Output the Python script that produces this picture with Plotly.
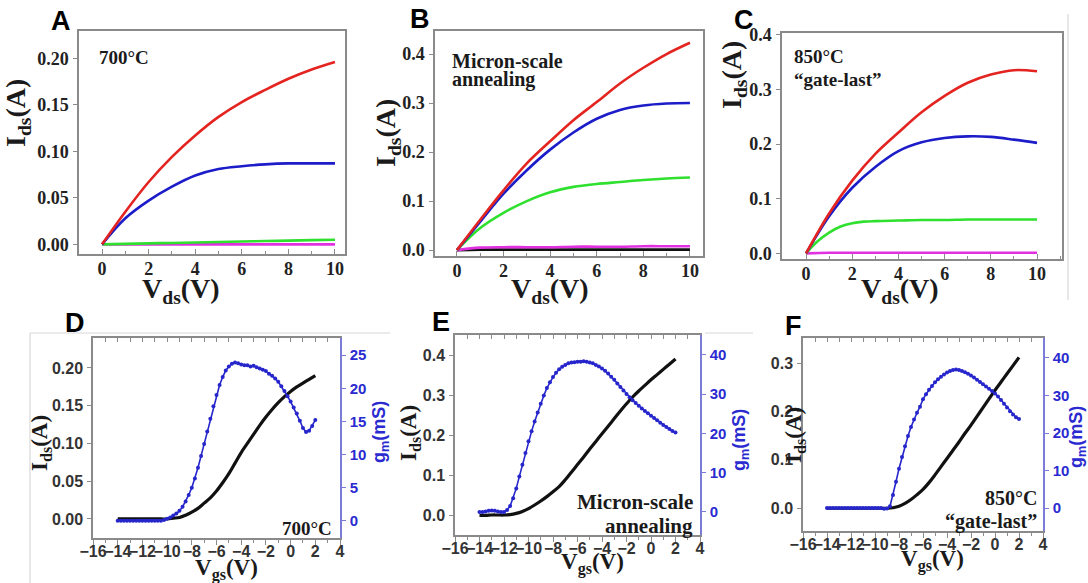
import plotly.graph_objects as go

W, H = 1088, 583
SERIF = "Liberation Serif"
SANS = "Liberation Sans"

# ---------------- data: output curves (top row) ----------------
vds = [0, 1, 2, 3, 4, 5, 6, 7, 8, 9, 10]
vds_c = [0, 0.5, 1, 1.5, 2, 2.5, 3, 4, 5, 6, 7, 8, 9, 10]

a_red = [0, 0.035, 0.067, 0.094, 0.117, 0.137, 0.153, 0.166, 0.178, 0.188, 0.196]
a_blue = [0, 0.028, 0.047, 0.062, 0.074, 0.081, 0.084, 0.086, 0.087, 0.087, 0.087]
a_green = [0, 0.0005, 0.001, 0.0015, 0.002, 0.0025, 0.003, 0.0035, 0.004, 0.0045, 0.005]
a_mag = [0, 0, 0, 0, 0, 0, 0, 0, 0, 0, 0]

b_red = [0, 0.062, 0.122, 0.177, 0.222, 0.265, 0.302, 0.340, 0.372, 0.400, 0.423]
b_blue = [0, 0.058, 0.115, 0.163, 0.205, 0.240, 0.268, 0.286, 0.295, 0.299, 0.300]
b_green = [0, 0.045, 0.076, 0.100, 0.118, 0.129, 0.135, 0.139, 0.143, 0.146, 0.148]
b_mag = [0, 0.005, 0.006, 0.006, 0.006, 0.007, 0.007, 0.007, 0.008, 0.008, 0.008]
b_black = [0, 0.001, 0.001, 0.001, 0.001, 0.001, 0.001, 0.001, 0.001, 0.001, 0.001]

c_red = [0, 0.073, 0.133, 0.182, 0.221, 0.258, 0.288, 0.312, 0.327, 0.335, 0.333]
c_blue = [0, 0.068, 0.120, 0.158, 0.187, 0.203, 0.211, 0.214, 0.213, 0.208, 0.202]
c_green = [0, 0.022, 0.038, 0.049, 0.055, 0.058, 0.059, 0.060, 0.061, 0.061, 0.062, 0.062, 0.062, 0.062]
c_mag = [0, 0.001, 0.001, 0.001, 0.001, 0.001, 0.001, 0.001, 0.001, 0.001, 0.001]

# ---------------- data: transfer curves (bottom row) ----------------
vgs_i = [-14, -13.5, -13, -12.5, -12, -11.5, -11, -10.5, -10, -9.5, -9, -8.5, -8,
         -7.5, -7, -6.5, -6, -5.5, -5, -4.5, -4, -3.5, -3, -2.5, -2, -1.5, -1,
         -0.5, 0, 0.5, 1, 1.5, 2]
vgs_g = [round(-14 + 0.25 * i, 2) for i in range(65)]

d_ids = [0, 0, 0, 0, 0, 0, 0, 0, 0, 0.001, 0.002, 0.005, 0.009, 0.014, 0.021, 0.028,
         0.037, 0.048, 0.060, 0.074, 0.088, 0.100, 0.112, 0.124, 0.135, 0.145, 0.154,
         0.162, 0.169, 0.175, 0.180, 0.185, 0.190]
e_ids = [-0.001, -0.001, 0, 0, 0, 0.001, 0.004, 0.009, 0.016, 0.025, 0.035, 0.046,
         0.058, 0.071, 0.088, 0.107, 0.126, 0.145, 0.165, 0.184, 0.203, 0.222, 0.241,
         0.260, 0.278, 0.295, 0.310, 0.324, 0.338, 0.351, 0.364, 0.377, 0.390]
f_ids = [0, 0, 0, 0, 0, 0, 0, 0, 0, 0, 0, 0.001, 0.004, 0.010, 0.018, 0.028, 0.039,
         0.053, 0.069, 0.086, 0.103, 0.120, 0.137, 0.155, 0.172, 0.190, 0.208, 0.226,
         0.244, 0.261, 0.278, 0.295, 0.312]

d_gm = [0, 0, 0, 0, 0, 0, 0, 0, 0, 0, 0, 0, 0, 0, 0,
        0.1, 0.3, 0.5, 0.8, 1.1, 1.5, 2.1, 2.9, 3.9, 5.0, 6.4, 8.0, 9.8, 11.6, 13.5,
        15.4, 17.3, 19.0, 20.5, 21.7, 22.7, 23.3, 23.7, 23.9, 23.8, 23.6, 23.5, 23.5,
        23.3, 23.4, 23.2, 23.0, 22.8, 22.6, 22.2, 21.9, 21.5, 21.0, 20.3, 19.6, 18.8,
        18.0, 17.1, 16.2, 15.1, 14.0, 13.4, 13.6, 14.3, 15.2]
e_gm = [0, 0, 0.1, 0.3, 0.4, 0.3, 0.1, 0, 0, 0.5, 1.5, 3.5, 6.0, 9.0, 12.0, 15.0,
        18.0, 20.5, 23.0, 25.3, 27.5, 29.6, 31.5, 33.0, 34.3, 35.4, 36.3, 36.9, 37.4,
        37.8, 38.0, 38.1, 38.2, 38.2, 38.3, 38.2, 38.0, 37.8, 37.4, 37.0, 36.5, 35.9,
        35.2, 34.4, 33.6, 32.7, 31.8, 30.9, 30.0, 29.2, 28.4, 27.7, 27.0, 26.3, 25.7,
        25.1, 24.5, 23.9, 23.3, 22.7, 22.1, 21.6, 21.1, 20.6, 20.2]
f_gm = [0, 0, 0, 0, 0, 0, 0, 0, 0, 0, 0, 0, 0, 0, 0, 0, 0, 0, 0, -0.2, -0.1,
        0.5, 3.5, 7.0, 10.5, 13.6, 16.5, 19.2, 21.6, 23.6, 25.4, 27.0, 29.0, 30.3,
        31.5, 32.5, 33.5, 34.3, 35.0, 35.6, 36.1, 36.5, 36.8, 36.9, 36.8, 36.5, 36.2,
        35.8, 35.3, 34.8, 34.2, 33.6, 33.0, 32.4, 31.8, 31.2, 30.5, 29.7, 28.8, 27.8,
        26.8, 25.8, 24.9, 24.2, 23.7]

RED, BLUE, GREEN, MAG, BLACK = "#e32420", "#1c1cc8", "#2fe02f", "#e030e0", "#111111"
GMBLUE = "#2626cc"


def fx(px):
    return px / W


def fy(py):
    return 1 - py / H


fig = go.Figure()


def line(x, y, color, ax, width=2.6, shape="spline"):
    fig.add_trace(go.Scatter(x=x, y=y, mode="lines", xaxis="x" + ax, yaxis="y" + ax,
                             line=dict(color=color, width=width, shape=shape),
                             hoverinfo="skip"))


# top row
line(vds, a_mag, MAG, "")
line(vds, a_green, GREEN, "")
line(vds, a_blue, BLUE, "")
line(vds, a_red, RED, "")

line(vds, b_black, BLACK, "2")
line(vds, b_mag, MAG, "2")
line(vds, b_green, GREEN, "2")
line(vds, b_blue, BLUE, "2")
line(vds, b_red, RED, "2")

line(vds, c_mag, MAG, "3")
line(vds_c, c_green, GREEN, "3")
line(vds, c_blue, BLUE, "3")
line(vds, c_red, RED, "3")

# bottom row
for ids, gm, ax, gax, tax in [(d_ids, d_gm, "4", "7", "10"), (e_ids, e_gm, "5", "8", "11"),
                              (f_ids, f_gm, "6", "9", "12")]:
    fig.add_trace(go.Scatter(x=vgs_i, y=ids, mode="lines", xaxis="x" + ax, yaxis="y" + ax,
                             line=dict(color=BLACK, width=3.2, shape="spline"), hoverinfo="skip"))
    fig.add_trace(go.Scatter(x=vgs_g, y=gm, mode="lines+markers", xaxis="x" + ax, yaxis="y" + gax,
                             line=dict(color=GMBLUE, width=1.6),
                             marker=dict(color=GMBLUE, size=4), hoverinfo="skip"))
    # empty trace so the top tick axis is drawn
    fig.add_trace(go.Scatter(x=[None], y=[None], mode="lines", xaxis="x" + tax, yaxis="y" + ax,
                             hoverinfo="skip"))

layout = dict(width=W, height=H, margin=dict(l=0, r=0, t=0, b=0, autoexpand=False),
              paper_bgcolor="white", plot_bgcolor="white", showlegend=False)

GRAY = "#8a8a8a"
top_tick = dict(family=SERIF, size=18, color="#222", weight="bold")
bot_tick = dict(family=SANS, size=16, color="#333", weight="bold")
blue_tick = dict(family=SANS, size=15, color="#2a2ad0", weight="bold")

top_panels = [
    ("", (79, 345), (30.5, 254), (-0.99, 10.43), (-0.0104, 0.2299), 0.05, ".2f"),
    ("2", (435, 703), (31, 256), (-0.94, 10.56), (-0.012, 0.447), 0.1, ".1f"),
    ("3", (782, 1062), (33, 259), (-1.04, 11.08), (-0.0103, 0.403), 0.1, ".1f"),
]
for ax, (x0, x1), (y0, y1), xr, yr, dt, fmt in top_panels:
    layout["xaxis" + ax] = dict(domain=[fx(x0), fx(x1)], range=list(xr), anchor="y" + ax,
                                showline=True, linecolor=GRAY, linewidth=1.5, mirror=True,
                                ticks="inside", ticklen=5, tickcolor=GRAY, dtick=2, tick0=0,
                                minor=dict(ticks="inside", ticklen=3, dtick=1, tick0=0, tickcolor=GRAY),
                                tickfont=top_tick, showgrid=False, zeroline=False,
                                ticklabelstandoff=-2, tickangle=0, automargin=False)
    layout["yaxis" + ax] = dict(domain=[fy(y1), fy(y0)], range=list(yr), anchor="x" + ax,
                                showline=True, linecolor=GRAY, linewidth=1.5, mirror=True,
                                ticks="outside", ticklen=4, tickcolor=GRAY, dtick=dt, tick0=0,
                                tickformat=fmt, tickfont=top_tick, showgrid=False, zeroline=False,
                                ticklabelstandoff=1, automargin=False)

bot_panels = [
    ("4", "7", "10", (93, 340), (338, 538), (-0.0252, 0.2397), 0.05, ".2f", (-2.6, 27.6), 5),
    ("5", "8", "11", (455, 700), (335, 535), (-0.05, 0.45), 0.1, ".1f", (-5.85, 45.0), 10),
    ("6", "9", "12", (803, 1043), (338, 531), (-0.047, 0.352), 0.1, ".1f", (-6.1, 45.3), 10),
]
for ax, gax, tax, (x0, x1), (y0, y1), yr, dt, fmt, gr, gdt in bot_panels:
    layout["xaxis" + ax] = dict(domain=[fx(x0), fx(x1)], range=[-16, 4], anchor="y" + ax,
                                showline=True, linecolor=GRAY, linewidth=1.5, mirror=True,
                                ticks="outside", ticklen=5, tickcolor=GRAY, dtick=2, tick0=-16,
                                minor=dict(ticks="outside", ticklen=3, dtick=1, tick0=-16, tickcolor=GRAY),
                                tickfont=bot_tick, showgrid=False, zeroline=False,
                                ticklabelstandoff=-7, tickangle=0, automargin=False)
    layout["xaxis" + tax] = dict(range=[-16, 4], overlaying="x" + ax, side="top", anchor="y" + ax,
                                 showline=False, ticks="inside", ticklen=4, tickcolor=GRAY,
                                 dtick=1, tick0=-16, showticklabels=False, showgrid=False,
                                 zeroline=False, automargin=False)
    layout["yaxis" + ax] = dict(domain=[fy(y1), fy(y0)], range=list(yr), anchor="x" + ax,
                                showline=True, linecolor=GRAY, linewidth=1.5, mirror=False,
                                ticks="outside", ticklen=4, tickcolor=GRAY, dtick=dt, tick0=0,
                                tickformat=fmt, tickfont=bot_tick, showgrid=False, zeroline=False,
                                ticklabelstandoff=1, automargin=False)
    layout["yaxis" + gax] = dict(range=list(gr), overlaying="y" + ax, side="right", anchor="x" + ax,
                                 showline=True, linecolor="#7b7bd8", linewidth=1.5,
                                 ticks="outside", ticklen=4, tickcolor="#7b7bd8", dtick=gdt, tick0=0,
                                 tickfont=blue_tick, showgrid=False, zeroline=False,
                                 ticklabelstandoff=1, automargin=False)

fig.update_layout(**layout)

ann = []


def text(t, x, y, size, family=SERIF, color="#1a1a1a", xa="center", ya="middle", angle=0):
    ann.append(dict(text=t, x=fx(x), y=fy(y), xref="paper", yref="paper", showarrow=False,
                    xanchor=xa, yanchor=ya, textangle=angle,
                    font=dict(family=family, size=size, color=color, weight="bold")))


# panel letters
for t, x, y in [("A", 61, 21), ("B", 420, 19), ("C", 744, 20),
                ("D", 75, 323), ("E", 441, 322), ("F", 793, 326)]:
    text(t, x, y, 27, family=SANS, color="black")

# in-plot labels
text("700°C", 97, 58, 19, xa="left")
text("Micron-scale", 450, 61, 20, xa="left")
text("annealing", 450, 80, 20, xa="left")
text("850°C", 792, 56, 19, xa="left")
text("“gate-last”", 792, 80, 19, xa="left")
text("700°C", 334, 528, 19, xa="right")
text("Micron-scale", 695, 502, 21, xa="right")
text("annealing", 695, 526, 21, xa="right")
text("850°C", 1039, 498, 20, xa="right")
text("“gate-last”", 1039, 521, 20, xa="right")

# axis titles
IDS = "I<sub>ds</sub>(A)"
for x, y in [(18, 113), (387, 133), (733, 75)]:
    text(IDS, x, y, 28, angle=-90)
for x, y in [(181, 290), (550, 291), (900, 291)]:
    text("V<sub>ds</sub>(V)", x, y, 28)
for x, y in [(41, 443), (410, 433), (795, 435)]:
    text(IDS, x, y, 23, angle=-90)
for x, y in [(226, 569), (592, 563), (932, 560)]:
    text("V<sub>gs</sub>(V)", x, y, 23)
for x, y in [(380, 432), (740, 440), (1077, 437)]:
    text("g<sub>m</sub>(mS)", x, y, 18, family=SANS, color="#2a2ad0", angle=-90)

fig.update_layout(annotations=ann)

# faint frame lines from the composite figure
shapes = []
for (xa0, ya0, xa1, ya1) in [(30, 333, 390, 333), (30, 333, 30, 583), (705, 333, 753, 333),
                             (1068, 14, 1068, 300)]:
    shapes.append(dict(type="line", xref="paper", yref="paper", x0=fx(xa0), y0=fy(ya0),
                       x1=fx(xa1), y1=fy(ya1), line=dict(color="#d8d8d8", width=1.2)))
fig.update_layout(shapes=shapes)

fig.write_html("out.html", config={"displayModeBar": False},
               post_script="document.body.style.margin='0';")
